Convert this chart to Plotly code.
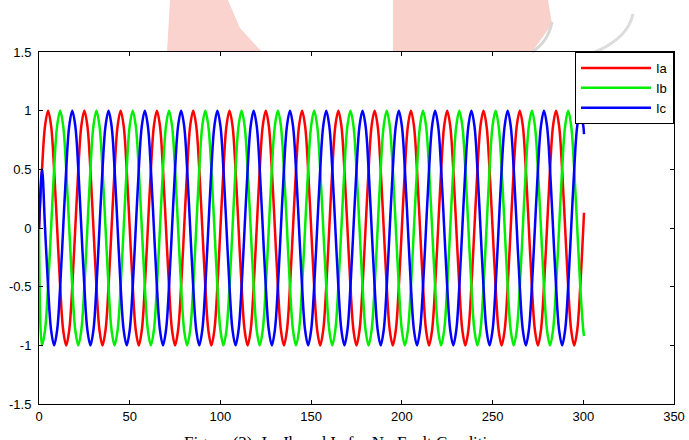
import plotly.graph_objects as go

# ---- data ----
t_ms = [0,
        1.67, 3.33, 5, 6.67, 8.33, 10, 11.67, 13.33, 15, 16.67, 18.33, 20,
        21.67, 23.33, 25, 26.67, 28.33, 30, 31.67, 33.33, 35, 36.67, 38.33, 40,
        41.67, 43.33, 45, 46.67, 48.33, 50, 51.67, 53.33, 55, 56.67, 58.33, 60,
        61.67, 63.33, 65, 66.67, 68.33, 70, 71.67, 73.33, 75, 76.67, 78.33, 80,
        81.67, 83.33, 85, 86.67, 88.33, 90, 91.67, 93.33, 95, 96.67, 98.33, 100,
        101.67, 103.33, 105, 106.67, 108.33, 110, 111.67, 113.33, 115, 116.67, 118.33, 120,
        121.67, 123.33, 125, 126.67, 128.33, 130, 131.67, 133.33, 135, 136.67, 138.33, 140,
        141.67, 143.33, 145, 146.67, 148.33, 150, 151.67, 153.33, 155, 156.67, 158.33, 160,
        161.67, 163.33, 165, 166.67, 168.33, 170, 171.67, 173.33, 175, 176.67, 178.33, 180,
        181.67, 183.33, 185, 186.67, 188.33, 190, 191.67, 193.33, 195, 196.67, 198.33, 200,
        201.67, 203.33, 205, 206.67, 208.33, 210, 211.67, 213.33, 215, 216.67, 218.33, 220,
        221.67, 223.33, 225, 226.67, 228.33, 230, 231.67, 233.33, 235, 236.67, 238.33, 240,
        241.67, 243.33, 245, 246.67, 248.33, 250, 251.67, 253.33, 255, 256.67, 258.33, 260,
        261.67, 263.33, 265, 266.67, 268.33, 270, 271.67, 273.33, 275, 276.67, 278.33, 280,
        281.67, 283.33, 285, 286.67, 288.33, 290, 291.67, 293.33, 295, 296.67, 298.33, 300,
        300.4]

ia = [0,
      0.5, 0.87, 1, 0.87, 0.5, 0, -0.5, -0.87, -1, -0.87, -0.5, 0,
      0.5, 0.87, 1, 0.87, 0.5, 0, -0.5, -0.87, -1, -0.87, -0.5, 0,
      0.5, 0.87, 1, 0.87, 0.5, 0, -0.5, -0.87, -1, -0.87, -0.5, 0,
      0.5, 0.87, 1, 0.87, 0.5, 0, -0.5, -0.87, -1, -0.87, -0.5, 0,
      0.5, 0.87, 1, 0.87, 0.5, 0, -0.5, -0.87, -1, -0.87, -0.5, 0,
      0.5, 0.87, 1, 0.87, 0.5, 0, -0.5, -0.87, -1, -0.87, -0.5, 0,
      0.5, 0.87, 1, 0.87, 0.5, 0, -0.5, -0.87, -1, -0.87, -0.5, 0,
      0.5, 0.87, 1, 0.87, 0.5, 0, -0.5, -0.87, -1, -0.87, -0.5, 0,
      0.5, 0.87, 1, 0.87, 0.5, 0, -0.5, -0.87, -1, -0.87, -0.5, 0,
      0.5, 0.87, 1, 0.87, 0.5, 0, -0.5, -0.87, -1, -0.87, -0.5, 0,
      0.5, 0.87, 1, 0.87, 0.5, 0, -0.5, -0.87, -1, -0.87, -0.5, 0,
      0.5, 0.87, 1, 0.87, 0.5, 0, -0.5, -0.87, -1, -0.87, -0.5, 0,
      0.5, 0.87, 1, 0.87, 0.5, 0, -0.5, -0.87, -1, -0.87, -0.5, 0,
      0.5, 0.87, 1, 0.87, 0.5, 0, -0.5, -0.87, -1, -0.87, -0.5, 0,
      0.5, 0.87, 1, 0.87, 0.5, 0, -0.5, -0.87, -1, -0.87, -0.5, 0,
      0.13]

ib = [0,
      -1, -0.87, -0.5, 0, 0.5, 0.87, 1, 0.87, 0.5, 0, -0.5, -0.87,
      -1, -0.87, -0.5, 0, 0.5, 0.87, 1, 0.87, 0.5, 0, -0.5, -0.87,
      -1, -0.87, -0.5, 0, 0.5, 0.87, 1, 0.87, 0.5, 0, -0.5, -0.87,
      -1, -0.87, -0.5, 0, 0.5, 0.87, 1, 0.87, 0.5, 0, -0.5, -0.87,
      -1, -0.87, -0.5, 0, 0.5, 0.87, 1, 0.87, 0.5, 0, -0.5, -0.87,
      -1, -0.87, -0.5, 0, 0.5, 0.87, 1, 0.87, 0.5, 0, -0.5, -0.87,
      -1, -0.87, -0.5, 0, 0.5, 0.87, 1, 0.87, 0.5, 0, -0.5, -0.87,
      -1, -0.87, -0.5, 0, 0.5, 0.87, 1, 0.87, 0.5, 0, -0.5, -0.87,
      -1, -0.87, -0.5, 0, 0.5, 0.87, 1, 0.87, 0.5, 0, -0.5, -0.87,
      -1, -0.87, -0.5, 0, 0.5, 0.87, 1, 0.87, 0.5, 0, -0.5, -0.87,
      -1, -0.87, -0.5, 0, 0.5, 0.87, 1, 0.87, 0.5, 0, -0.5, -0.87,
      -1, -0.87, -0.5, 0, 0.5, 0.87, 1, 0.87, 0.5, 0, -0.5, -0.87,
      -1, -0.87, -0.5, 0, 0.5, 0.87, 1, 0.87, 0.5, 0, -0.5, -0.87,
      -1, -0.87, -0.5, 0, 0.5, 0.87, 1, 0.87, 0.5, 0, -0.5, -0.87,
      -1, -0.87, -0.5, 0, 0.5, 0.87, 1, 0.87, 0.5, 0, -0.5, -0.87,
      -0.92]

ic = [0,
      0.5, 0, -0.5, -0.87, -1, -0.87, -0.5, 0, 0.5, 0.87, 1, 0.87,
      0.5, 0, -0.5, -0.87, -1, -0.87, -0.5, 0, 0.5, 0.87, 1, 0.87,
      0.5, 0, -0.5, -0.87, -1, -0.87, -0.5, 0, 0.5, 0.87, 1, 0.87,
      0.5, 0, -0.5, -0.87, -1, -0.87, -0.5, 0, 0.5, 0.87, 1, 0.87,
      0.5, 0, -0.5, -0.87, -1, -0.87, -0.5, 0, 0.5, 0.87, 1, 0.87,
      0.5, 0, -0.5, -0.87, -1, -0.87, -0.5, 0, 0.5, 0.87, 1, 0.87,
      0.5, 0, -0.5, -0.87, -1, -0.87, -0.5, 0, 0.5, 0.87, 1, 0.87,
      0.5, 0, -0.5, -0.87, -1, -0.87, -0.5, 0, 0.5, 0.87, 1, 0.87,
      0.5, 0, -0.5, -0.87, -1, -0.87, -0.5, 0, 0.5, 0.87, 1, 0.87,
      0.5, 0, -0.5, -0.87, -1, -0.87, -0.5, 0, 0.5, 0.87, 1, 0.87,
      0.5, 0, -0.5, -0.87, -1, -0.87, -0.5, 0, 0.5, 0.87, 1, 0.87,
      0.5, 0, -0.5, -0.87, -1, -0.87, -0.5, 0, 0.5, 0.87, 1, 0.87,
      0.5, 0, -0.5, -0.87, -1, -0.87, -0.5, 0, 0.5, 0.87, 1, 0.87,
      0.5, 0, -0.5, -0.87, -1, -0.87, -0.5, 0, 0.5, 0.87, 1, 0.87,
      0.5, 0, -0.5, -0.87, -1, -0.87, -0.5, 0, 0.5, 0.87, 1, 0.87,
      0.8]

series_names = ["Ia", "Ib", "Ic"]
x_tick_vals = [0, 50, 100, 150, 200, 250, 300, 350]
x_tick_text = ["0", "50", "100", "150", "200", "250", "300", "350"]
y_tick_vals = [-1.5, -1, -0.5, 0, 0.5, 1, 1.5]
y_tick_text = ["-1.5", "-1", "-0.5", "0", "0.5", "1", "1.5"]
caption = "Figure (3): Ia, Ib and Ic for No Fault Condition"

# ---- figure ----
W, H = 689, 440
ML, MR, MT, MB = 39, 15, 52, 36
PW, PH = W - ML - MR, H - MT - MB


def px(x):
    return (x - ML) / PW


def py(y):
    return (H - MB - y) / PH


colors = ["#ff0000", "#00ee00", "#0000ff"]
fig = go.Figure()
for name, ys, c in zip(series_names, [ia, ib, ic], colors):
    fig.add_trace(go.Scatter(x=t_ms, y=ys, mode="lines", name=name,
                             line=dict(color=c, width=2.5, shape="spline", smoothing=1)))

axis_common = dict(showline=True, linecolor="black", linewidth=1, mirror="ticks",
                   ticks="inside", ticklen=4, tickcolor="black", showgrid=False,
                   zeroline=False, automargin=False,
                   tickfont=dict(family="Liberation Sans, Arial", size=13, color="black"))

fig.update_xaxes(range=[0, 350], tickmode="array", tickvals=x_tick_vals,
                 ticktext=x_tick_text, **axis_common)
fig.update_yaxes(range=[-1.5, 1.5], tickmode="array", tickvals=y_tick_vals,
                 ticktext=y_tick_text, ticklabelstandoff=4, **axis_common)

# faded watermark pieces visible above the axes
wm = [
    ([(170, 0), (228, 0), (240, 28), (262, 52), (167, 52)], "rgba(250,210,206,1)"),
    ([(393, 0), (548, 0), (552, 24), (532, 52), (393, 52)], "rgba(250,208,202,1)"),
]
shapes = []
for pts, fill in wm:
    path = "M " + " L ".join(f"{px(a):.4f},{py(b):.4f}" for a, b in pts) + " Z"
    shapes.append(dict(type="path", xref="paper", yref="paper", path=path,
                       fillcolor=fill, line=dict(width=0), layer="below"))
# grey arcs of the watermark
shapes.append(dict(type="path", xref="paper", yref="paper",
                   path=f"M {px(552):.4f},{py(22):.4f} Q {px(548):.4f},{py(42):.4f} {px(532):.4f},{py(52):.4f}",
                   line=dict(color="rgba(215,215,215,1)", width=3), layer="below"))
shapes.append(dict(type="path", xref="paper", yref="paper",
                   path=f"M {px(633):.4f},{py(14):.4f} Q {px(628):.4f},{py(38):.4f} {px(595):.4f},{py(52):.4f}",
                   line=dict(color="rgba(220,220,220,1)", width=3), layer="below"))

fig.update_layout(
    width=W, height=H,
    margin=dict(l=ML, r=MR, t=MT, b=MB, pad=0, autoexpand=False),
    paper_bgcolor="white", plot_bgcolor="white",
    shapes=shapes,
    showlegend=True,
    legend=dict(x=1, y=1, xanchor="right", yanchor="top",
                bgcolor="white", bordercolor="black", borderwidth=1,
                font=dict(family="Liberation Sans, Arial", size=13, color="black"),
                itemwidth=70, tracegroupgap=0),
    annotations=[dict(text=caption, xref="paper", yref="paper",
                      x=px(344), y=py(431), xanchor="center", yanchor="top",
                      showarrow=False,
                      font=dict(family="Liberation Serif, Times New Roman", size=17, color="black"))],
)

fig.write_html("out.html")
